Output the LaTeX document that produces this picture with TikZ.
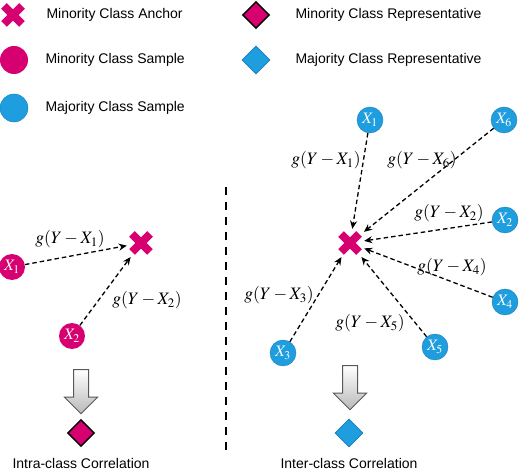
\documentclass[tikz,border=0pt]{standalone}
\usepackage{mathptmx}
\usepackage{fontspec}
\setmainfont{Liberation Sans}
\usepackage{tikz}
\usetikzlibrary{shapes.geometric, shapes.arrows, arrows.meta, positioning}

\definecolor{minpink}{RGB}{214,0,112}
\definecolor{majblue}{RGB}{30,158,222}
\definecolor{majborder}{RGB}{24,124,186}

\begin{document}
\begin{tikzpicture}[
        x=1pt, y=-1pt,
        legendtext/.style={
            anchor=west, 
            font=\fontsize{14}{16}\selectfont
        },
        caption/.style={
            font=\fontsize{14}{16}\selectfont
        },
        anchormark/.style={
            rectangle, 
            minimum size=26pt, 
            inner sep=0pt,
            path picture={
                \draw[minpink, line width=8pt] 
                    ([shift={(-9pt,-9pt)}]path picture bounding box.center) -- ([shift={(9pt,9pt)}]path picture bounding box.center)
                    ([shift={(-9pt,9pt)}]path picture bounding box.center) -- ([shift={(9pt,-9pt)}]path picture bounding box.center);
            }
        },
        minsample/.style={
            circle, 
            fill=minpink, 
            minimum size=26pt, 
            inner sep=0pt, 
            text=white, 
            font=\fontsize{16}{16}\selectfont\boldmath
        },
        majsample/.style={
            circle, 
            fill=majblue, 
            draw=majborder, 
            thin, 
            minimum size=26pt, 
            inner sep=0pt, 
            text=white, 
            font=\fontsize{16}{16}\selectfont\boldmath
        },
        minrep/.style={
            diamond, 
            fill=minpink, 
            draw=black, 
            line width=1.4pt, 
            minimum size=27pt, 
            inner sep=0pt
        },
        majrep/.style={
            diamond, 
            fill=majblue, 
            draw=majborder, 
            line width=0.8pt, 
            minimum size=28pt, 
            inner sep=0pt
        },
        bigarrow/.style={
            single arrow, 
            shape border rotate=270, 
            draw=gray!70!black, 
            line width=1pt, 
            top color=white, 
            bottom color=gray!55, 
            minimum height=44pt, 
            single arrow head extend=9pt, 
            inner sep=7pt
        },
        corr/.style={
            draw, 
            -{Stealth[length=8pt, width=7pt]}, 
            line width=1.3pt, 
            dash pattern=on 4.5pt off 3pt, 
            shorten >=1pt
        },
        glabel/.style={
            font=\fontsize{17.5}{18}\selectfont
        }
    ]
        \useasboundingbox (0,0) rectangle (520,470);

        % Legend
        \node [anchormark] (leganchor) at (13,15) {};
        \node [legendtext] at (43,15) {Minority Class Anchor};
        \node [minsample, minimum size=28pt] (legmin) at (14,60) {};
        \node [legendtext] at (42,60) {Minority Class Sample};
        \node [majsample, minimum size=28pt] (legmaj) at (14,108) {};
        \node [legendtext] at (42,108) {Majority Class Sample};
        \node [minrep] (legminrep) at (256,15) {};
        \node [legendtext] at (292,15) {Minority Class Representative};
        \node [majrep] (legmajrep) at (256,60) {};
        \node [legendtext] at (292,60) {Majority Class Representative};

        % Divider
        \coordinate (divtop) at (226,187);
        \coordinate (divbot) at (226,456);
        \draw [line width=2pt, dash pattern=on 8pt off 7pt] (divtop) -- (divbot);

        % Intra-class side
        \node [anchormark] (intraY) at (141,243) {};
        \node [minsample] (intraX1) at (12,267) {$X_1$};
        \node [minsample] (intraX2) at (72,336) {$X_2$};
        \draw [corr] (intraX1) -- (intraY);
        \draw [corr] (intraX2) -- (intraY);
        \node [glabel] at (70,239) {$g(Y-X_1)$};
        \node [glabel] at (147,300) {$g(Y-X_2)$};
        \node [bigarrow] (intraarrow) at (81,388) {};
        \node [minrep] (intrarep) at (81,433) {};
        \node [caption] at (81,463) {Intra-class Correlation};

        % Inter-class side
        \node [anchormark] (interY) at (350,243) {};
        \node [majsample] (interX1) at (370,120) {$X_1$};
        \node [majsample] (interX6) at (504,120) {$X_6$};
        \node [majsample] (interX2) at (505,220) {$X_2$};
        \node [majsample] (interX4) at (505,302) {$X_4$};
        \node [majsample] (interX5) at (435,347) {$X_5$};
        \node [majsample] (interX3) at (283,353) {$X_3$};
        \foreach \i in {1,...,6}
            \draw [corr] (interX\i) -- (interY);
        \node [glabel] at (326,160) {$g(Y-X_1)$};
        \node [glabel] at (422,160) {$g(Y-X_6)$};
        \node [glabel] at (449,213) {$g(Y-X_2)$};
        \node [glabel] at (452,267) {$g(Y-X_4)$};
        \node [glabel] at (279,295) {$g(Y-X_3)$};
        \node [glabel] at (370,323) {$g(Y-X_5)$};
        \node [bigarrow] (interarrow) at (350,384) {};
        \node [majrep] (interrep) at (349,433) {};
        \node [caption] at (349,463) {Inter-class Correlation};

    \end{tikzpicture}
\end{document}
